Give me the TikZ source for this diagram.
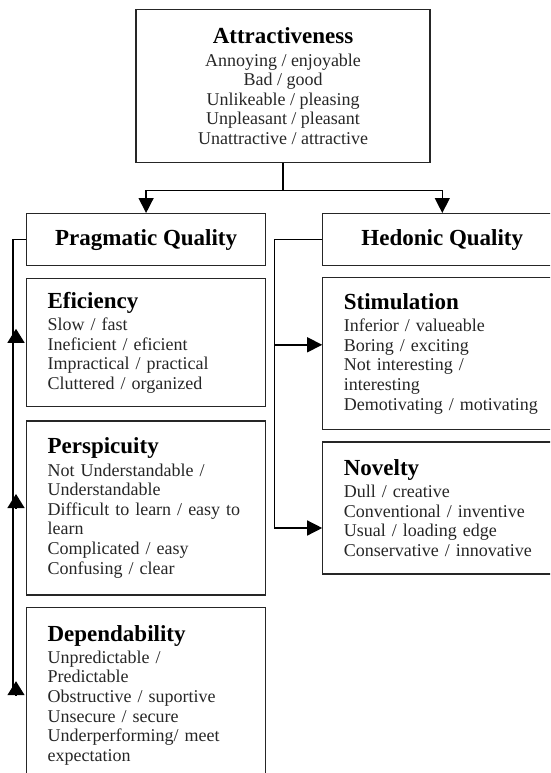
\documentclass[tikz,border=0pt]{standalone}
\usepackage{fontspec}
\setmainfont{Liberation Serif}
\usetikzlibrary{arrows.meta,positioning,calc}

\newcommand{\hd}[1]{{\fontsize{23}{25}\selectfont\bfseries\color{black} #1}}

\begin{document}
\begin{tikzpicture}[x=1pt, y=-1pt,
  box/.style = {draw=black!85, line width=1.2pt, inner sep=0pt, text=black!85, font=\fontsize{18}{19.6}\selectfont},
  head/.style = {box, minimum width=239pt, minimum height=52pt},
  sub/.style = {box, text width=197pt, inner xsep=21pt, align=left},
  tip/.style = {-{Triangle[length=15pt, width=15pt]}, line width=1.4pt},
  uptip/.style = {-{Triangle[length=14pt, width=17pt]}, line width=1.4pt}]
\useasboundingbox (0,0) rectangle (550,773);
\clip (0,0) rectangle (550,773);

% top box
\node[box, align=center, minimum width=294pt, minimum height=153pt, anchor=north] (attr) at (283,9)
  {\hd{Attractiveness}\\[3pt] Annoying / enjoyable\\ Bad / good\\ Unlikeable / pleasing\\ Unpleasant / pleasant\\ Unattractive / attractive};

% the two qualities
\node[head, anchor=north west] (prag) at (26,213) {\hd{Pragmatic Quality}};
\node[head, right=56pt of prag] (hed) {\hd{Hedonic Quality}};

% pragmatic scales
\node[sub, minimum height=128pt, below=12pt of prag.south west, anchor=north west] (eff)
  {\hd{Eficiency}\\[2.5pt] Slow / fast\\ Ineficient / eficient\\ Impractical / practical\\ Cluttered / organized};
\node[sub, minimum height=174pt, below=13pt of eff.south west, anchor=north west] (per)
  {\hd{Perspicuity}\\[2.5pt] Not Understandable /\\ Understandable\\ Difficult to learn / easy to\\ learn\\ Complicated / easy\\ Confusing / clear};
\node[sub, minimum height=176pt, below=11pt of per.south west, anchor=north west] (dep)
  {\hd{Dependability}\\[2.5pt] Unpredictable /\\ Predictable\\ Obstructive / suportive\\ Unsecure / secure\\ Underperforming/ meet\\ expectation};

% hedonic scales
\node[sub, minimum height=152pt, below=11pt of hed.south west, anchor=north west] (stim)
  {\hd{Stimulation}\\[2.5pt] Inferior / valueable\\ Boring / exciting\\ Not interesting /\\ interesting\\ Demotivating / motivating};
\node[sub, minimum height=132pt, below=11pt of stim.south west, anchor=north west] (nov)
  {\hd{Novelty}\\[2.5pt] Dull / creative\\ Conventional / inventive\\ Usual / loading edge\\ Conservative / innovative};

% connectors
\draw[tip] (attr.south) -- ++(0,27) -| (prag.north);
\draw[tip] (attr.south) -- ++(0,27) -| (hed.north);

\draw[tip] (hed.west) -- ++(-48,0) |- ([yshift=9pt]stim.west);
\draw[tip] (hed.west) -- ++(-48,0) |- ([yshift=-20pt]nov.west);

\coordinate (lbus) at ($(prag.west)+(-13,0)$);
\draw[line width=1.4pt] (prag.west) -- (lbus) -- (lbus |- dep.west);
\foreach \n in {eff, per, dep}
  \draw[uptip] ($(lbus |- \n.west)+(3,0)$) -- ($(lbus |- \n.west)+(3,-14)$);
\end{tikzpicture}
\end{document}
